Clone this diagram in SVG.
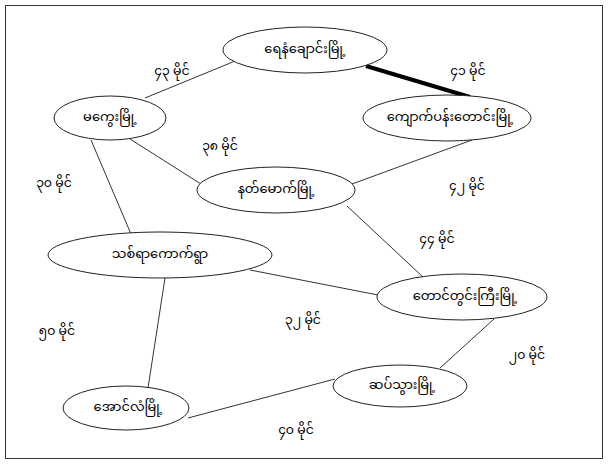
<svg xmlns="http://www.w3.org/2000/svg" width="609" height="465" viewBox="0 0 609 465">
<style>
.n{fill:#fff;stroke:#222;stroke-width:1}
.t{font-family:"Noto Sans Myanmar","Padauk","Myanmar Text","Noto Sans",sans-serif;font-size:13px;fill:#000;text-anchor:middle;dominant-baseline:central}
.l{font-family:"Noto Sans Myanmar","Padauk","Myanmar Text","Noto Sans",sans-serif;font-size:12.5px;fill:#000;text-anchor:middle;dominant-baseline:central}
.e{stroke:#333;stroke-width:1;fill:none}
</style>
<rect x="0" y="0" width="609" height="465" fill="#fff"/>
<rect x="5.5" y="5.5" width="597" height="453" fill="none" stroke="#333" stroke-width="1"/>
<g id="connectors">
<line class="e" x1="145" y1="98" x2="240" y2="59"/>
<line x1="366" y1="66" x2="470" y2="97" stroke="#000" stroke-width="4"/>
<line class="e" x1="130" y1="139" x2="201" y2="184"/>
<line class="e" x1="91" y1="140" x2="131" y2="234"/>
<line class="e" x1="472" y1="140" x2="352" y2="184"/>
<line class="e" x1="347" y1="206" x2="424" y2="278"/>
<line class="e" x1="250" y1="270" x2="378" y2="295"/>
<line class="e" x1="165" y1="278" x2="148" y2="388"/>
<line class="e" x1="494" y1="319" x2="440" y2="368"/>
<line class="e" x1="335" y1="379" x2="188" y2="418"/>
</g>
<g id="labels">
<text class="l" x="172" y="72">၄၃ မိုင်</text>
<text class="l" x="468" y="72">၄၁ မိုင်</text>
<text class="l" x="220" y="147">၃၈ မိုင်</text>
<text class="l" x="54" y="184">၃၀ မိုင်</text>
<text class="l" x="467" y="187">၄၂ မိုင်</text>
<text class="l" x="437" y="240">၄၄ မိုင်</text>
<text class="l" x="57" y="332">၅၀ မိုင်</text>
<text class="l" x="303" y="321">၃၂ မိုင်</text>
<text class="l" x="527" y="356">၂၀ မိုင်</text>
<text class="l" x="296" y="431">၄၀ မိုင်</text>
</g>
<g id="yenangyaung"><ellipse class="n" cx="305" cy="50" rx="82" ry="23"/><text class="t" x="305" y="50">ရေနံချောင်းမြို့</text></g>
<g id="kyaukpadaung"><ellipse class="n" cx="447" cy="118" rx="84" ry="23"/><text class="t" x="450" y="118">ကျောက်ပန်းတောင်းမြို့</text></g>
<g id="magway"><ellipse class="n" cx="110" cy="118" rx="56" ry="22"/><text class="t" x="110" y="118">မကွေးမြို့</text></g>
<g id="natmauk"><ellipse class="n" cx="276" cy="190" rx="79" ry="23"/><text class="t" x="276" y="190">နတ်မောက်မြို့</text></g>
<g id="thitayarkauk"><ellipse class="n" cx="160" cy="255" rx="112" ry="23"/><text class="t" x="160" y="255">သစ်ရာကောက်ရွာ</text></g>
<g id="taungdwingyi"><ellipse class="n" cx="462" cy="297" rx="85" ry="23"/><text class="t" x="465" y="297">တောင်တွင်းကြီးမြို့</text></g>
<g id="satthwa"><ellipse class="n" cx="400" cy="386" rx="67" ry="21"/><text class="t" x="402" y="386">ဆပ်သွားမြို့</text></g>
<g id="aunglan"><ellipse class="n" cx="126" cy="408" rx="63" ry="22"/><text class="t" x="128" y="408">အောင်လံမြို့</text></g>
</svg>
